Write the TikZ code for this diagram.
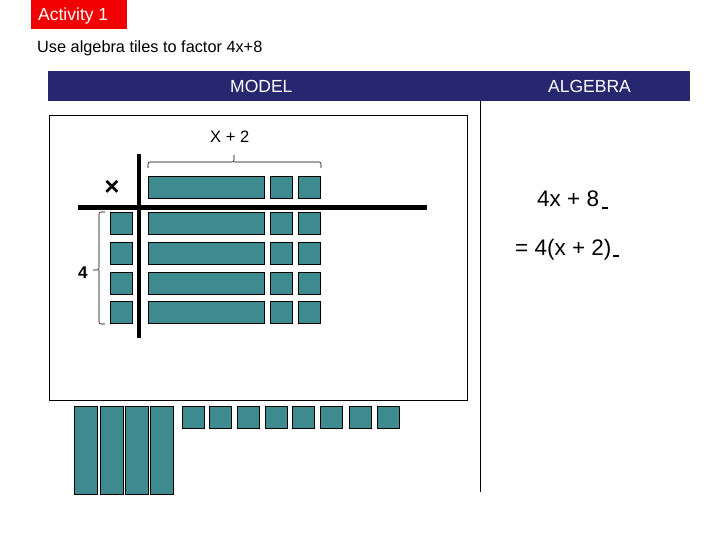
\documentclass[tikz,border=0pt]{standalone}
\usepackage{fontspec}
\setmainfont{Liberation Sans}

\definecolor{tilecol}{RGB}{62,139,143}
\definecolor{barcol}{RGB}{38,39,110}
\definecolor{tagcol}{RGB}{240,0,0}

\tikzset{
  unit/.style={draw, fill=tilecol, line width=.9pt, inner sep=0, minimum width=22pt, minimum height=22pt},
  xlong/.style={unit, minimum width=116pt},
  xtall/.style={unit, minimum width=23pt, minimum height=88pt},
  label/.style={anchor=base west, inner sep=0},
  bracket/.style={line width=.6pt, rounded corners=2pt}
}

\begin{document}
\begin{tikzpicture}[x=1pt,y=-1pt]
      \useasboundingbox (0,0) rectangle (720,540);

      % title and header
      \node[fill=tagcol, anchor=north west, minimum width=96pt, minimum height=29pt, inner sep=0] (tag) at (31,0) {};
      \node[fill=barcol, anchor=north west, minimum width=642pt, minimum height=30pt, inner sep=0] (bar) at (48,71) {};

      \begin{scope}[every node/.style={label, font=\fontsize{17.5}{20}\selectfont}]
        \node[text=white] (act)  at (38,21)  {Activity 1};
        \node[font=\fontsize{16.3}{19}\selectfont] (task) at (37,53) {Use algebra tiles to factor 4x+8};
        \node[text=white] (model) at (230,93) {MODEL};
        \node[text=white] (alg)  at (548,93) {ALGEBRA};
      \end{scope}

      % frames
      \node[draw, line width=.8pt, anchor=north west, minimum width=418pt, minimum height=285pt, inner sep=0] (frame) at (49,115) {};
      \coordinate (d1) at (480,101);
      \coordinate (d2) at (480,492);
      \draw[line width=.8pt] (d1) -- (d2);

      % axes of the product
      \coordinate (h1) at (78,207.5);
      \coordinate (h2) at (427,207.5);
      \coordinate (v1) at (139,154);
      \coordinate (v2) at (139,338);
      \draw[line width=4.5pt] (h1) -- (h2);
      \draw[line width=4pt] (v1) -- (v2);

      % top factor: x + 2
      \node[xlong] (top0) at (206,187.5) {};
      \node[unit]  (top1) at (281,187.5) {};
      \node[unit]  (top2) at (309,187.5) {};

      % left factor and product rows
      \foreach \r/\y in {1/223.5,2/253.5,3/283.5,4/312.5} {
        \node[unit]  (left\r) at (121,\y) {};
        \node[xlong] (row\r)  at (206,\y) {};
        \node[unit]  (ra\r)   at (281,\y) {};
        \node[unit]  (rb\r)   at (309,\y) {};
      }

      % spare tiles
      \foreach \i/\x in {1/85.5,2/111.5,3/136.5,4/161.5}
        \node[xtall] (sx\i) at (\x,450) {};
      \foreach \i/\x in {1/193,2/220.5,3/248.5,4/276,5/303.5,6/331.5,7/360,8/388}
        \node[unit] (su\i) at (\x,417) {};

      % brackets
      \coordinate (b1) at (148,168);
      \coordinate (b2) at (321,168);
      \coordinate (bt) at (234,155);
      \coordinate (b3) at (105,212);
      \coordinate (b4) at (105,324);
      \coordinate (bl) at (93,270);
      \draw[bracket] (b1) |- (bt |- 0,162) -- (bt);
      \draw[bracket] (bt |- 0,162) -| (b2);
      \draw[bracket] (b3) -| (99,270) -- (bl);
      \draw[bracket] (99,270) |- (b4);

      \node[label, font=\fontsize{16.5}{18}\selectfont] (xp2) at (210,143) {X + 2};
      \node[label, font=\fontsize{17}{19}\selectfont\bfseries] (four) at (78,278) {4};
      \node[font=\fontsize{26}{28}\selectfont\bfseries, inner sep=0] (times) at (112,188) {×};

      % algebra
      \begin{scope}[every node/.style={label, font=\fontsize{22.5}{26}\selectfont}]
        \node (line1) at (537,207) {4x + 8\hspace{3pt}\rule[-2pt]{6pt}{2pt}};
        \node (line2) at (515,255) {= 4(x + 2)\hspace{1pt}\rule[-2pt]{6pt}{2pt}};
      \end{scope}

    \end{tikzpicture}
\end{document}
